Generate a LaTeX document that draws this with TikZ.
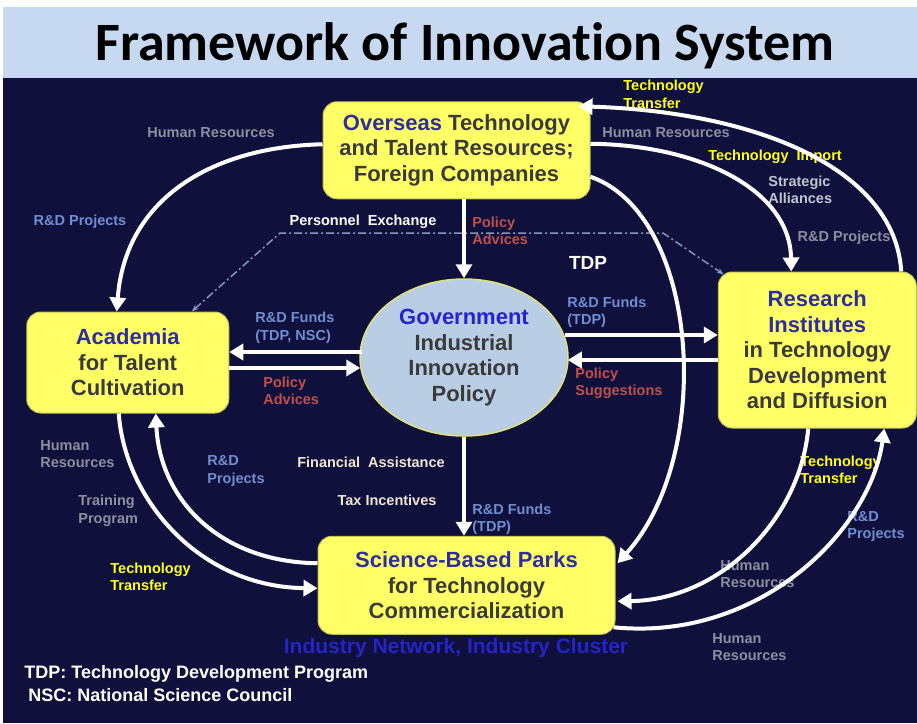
\documentclass[tikz,border=0pt]{standalone}
\usepackage{fontspec}
\setmainfont{Liberation Sans}
\newfontfamily\titlefont{Carlito}[Ligatures=NoCommon]
\usetikzlibrary{positioning,calc,arrows.meta,shapes.geometric}

\definecolor{navybg}{HTML}{10103C}
\definecolor{bandblue}{HTML}{C6D9F1}
\definecolor{boxyellow}{HTML}{FFFF66}
\definecolor{boxedge}{HTML}{C2C25C}
\definecolor{ellfill}{HTML}{B9CDE5}
\definecolor{elledge}{HTML}{E2E278}
\definecolor{nameblue}{HTML}{2E2EA0}
\definecolor{govblue}{HTML}{2323D0}
\definecolor{darktext}{HTML}{3A3A3A}
\definecolor{hrgray}{HTML}{8E8E9E}
\definecolor{lightgray}{HTML}{C4C4CE}
\definecolor{fundblue}{HTML}{6E8FD2}
\definecolor{policyred}{HTML}{C0504D}
\definecolor{techyellow}{HTML}{FFFF1A}
\definecolor{creamtxt}{HTML}{F0E6D2}
\definecolor{dashblue}{HTML}{7F98BA}
\definecolor{clusterblue}{HTML}{2424C8}

\begin{document}
\begin{tikzpicture}[x=1pt, y=-1pt, thick,
  main/.style = {draw=boxedge, line width=1pt, fill=boxyellow, rounded corners=14pt, inner sep=0pt,
                 align=center, text=darktext, font=\bfseries\fontsize{22}{25.5}\selectfont},
  hub/.style = {ellipse, draw=elledge, line width=1.5pt, fill=ellfill, inner sep=0pt,
                align=center, text=darktext, font=\bfseries\fontsize{22}{25.7}\selectfont},
  lbl/.style = {inner sep=0pt, align=left, font=\bfseries\fontsize{14.5}{17.5}\selectfont},
  flow/.style = {draw=white, line width=4pt, -{Triangle[length=14pt,width=16pt]}},
  link/.style = {draw=dashblue, line width=1.5pt, dash pattern=on 8pt off 3pt on 2pt off 3pt,
                 {Stealth[length=7pt]}-{Stealth[length=7pt]}}]
\useasboundingbox (0,0) rectangle (917,723);
\fill[white] (0,0) rectangle (917,723);
\fill[bandblue] (3,7) rectangle (917,78);
\fill[navybg] (3,78) rectangle (917,723);
\node[font=\titlefont\bfseries\fontsize{54}{60}\selectfont] (title) at (465,46) {Framework of Innovation System};

\node[hub, minimum width=208pt, minimum height=157pt] (2) at (464,357.5) {{\color{govblue}Government}\\Industrial\\Innovation\\Policy};
\node[main, minimum width=267pt, minimum height=97pt, above=79pt of 2, xshift=-7.5pt] (1) {{\color{nameblue}Overseas} Technology\\and Talent Resources;\\Foreign Companies};
\node[main, minimum width=202pt, minimum height=101pt, left=130pt of 2, yshift=-5pt] (3) {{\color{nameblue}Academia}\\for Talent\\Cultivation};
\node[main, minimum width=198pt, minimum height=156pt, right=149pt of 2, yshift=7.5pt] (4) {{\color{nameblue}Research}\\{\color{nameblue}Institutes}\\in Technology\\Development\\and Diffusion};
\node[main, minimum width=297pt, minimum height=98pt, below=99pt of 2, xshift=2.5pt] (5) {{\color{nameblue}Science-Based Parks}\\for Technology\\Commercialization};

% flow labels
\node[lbl, text=hrgray] (hr1) at (211,133) {Human Resources};
\node[lbl, text=fundblue] (rd1) at (80,222) {R\&D Projects};
\node[lbl, text=white] (pe) at (363,222) {Personnel\ \ Exchange};
\node[lbl, text=policyred, anchor=west] (pa1) at (472,231) {Policy\\Advices};
\node[lbl, text=white, font=\bfseries\fontsize{19}{22}\selectfont] (tdp) at (588,263) {TDP};
\node[lbl, text=fundblue, anchor=west] (rf1) at (567,312) {R\&D Funds\\(TDP)};
\node[lbl, text=fundblue, anchor=west] (rf2) at (255,327.5) {R\&D Funds\\(TDP, NSC)};
\node[lbl, text=policyred, anchor=west] (pa2) at (263,391) {Policy\\Advices};
\node[lbl, text=policyred, anchor=west] (ps) at (575,383.5) {Policy\\Suggestions};
\node[lbl, text=hrgray, anchor=west] (hr2) at (40,454) {Human\\Resources};
\node[lbl, text=fundblue, anchor=west] (rd2) at (207,471) {R\&D\\Projects};
\node[lbl, text=creamtxt] (fa) at (371,462) {Financial\ \ Assistance};
\node[lbl, text=creamtxt] (tx) at (387,500) {Tax Incentives};
\node[lbl, text=hrgray, anchor=west] (tp) at (78,511) {Training\\Program};
\node[lbl, text=fundblue, anchor=west] (rf3) at (472,519) {R\&D Funds\\(TDP)};
\node[lbl, text=techyellow, anchor=west] (tt1) at (110,577) {Technology\\Transfer};
\node[lbl, text=hrgray, anchor=west] (hr3) at (720,574) {Human\\Resources};
\node[lbl, text=hrgray, anchor=west] (hr4) at (712,647) {Human\\Resources};
\node[lbl, text=fundblue, anchor=west] (rd3) at (847,526.5) {R\&D\\Projects};
\node[lbl, text=techyellow, anchor=west] (tt2) at (800,470) {Technology\\Transfer};
\node[lbl, text=hrgray] (rd4) at (844,238) {R\&D Projects};
\node[lbl, text=lightgray, anchor=west] (sa) at (768,190) {Strategic\\Alliances};
\node[lbl, text=techyellow] (imp) at (775,157) {Technology\ \ Import};
\node[lbl, text=hrgray] (hr5) at (666,133) {Human Resources};
\node[lbl, text=techyellow, anchor=west] (tt3) at (623,94.5) {Technology\\Transfer};
\node[font=\bfseries\fontsize{21}{24}\selectfont, text=clusterblue, inner sep=0pt] (net) at (456,648) {Industry Network, Industry Cluster};
\node[font=\bfseries\fontsize{18}{23}\selectfont, text=white, align=left, anchor=west, inner sep=0pt] (key) at (24,683.5) {TDP: Technology Development Program\\\hspace*{4pt}NSC: National Science Council};

\draw[link] ($(3.north)+(64,0)$) -- (280,233) -- (663,233) -- ($(4.north west)+(6,3)$);

\draw[flow] ($(1.west)+(0,-6)$) .. controls (210,147) and (125,200) .. ($(3.north)+(-11,0)$);
\draw[flow] (2.north |- 1.south) -- (2.north);
\draw[flow] ($(2.west)+(3,-5.5)$) -- ($(3.east)+(0,-10.5)$);
\draw[flow] ($(3.east)+(0,5.5)$) -- ($(2.west)+(1,10.5)$);
\draw[flow] ($(2.east)+(-4,-22.5)$) -- ($(4.west)+(0,-15)$);
\draw[flow] ($(4.west)+(0,10)$) -- ($(2.east)+(-1,2.5)$);
\draw[flow] (2.south) -- (2.south |- 5.north);
\draw[flow] ($(1.east)+(0,26.5)$) .. controls (700,215) and (715,455) .. ($(5.east)+(2,-22)$);
\draw[flow] ($(1.east)+(0,-6.5)$) .. controls (700,145) and (790,190) .. ($(4.north)+(-26,0)$);
\draw[flow] ($(4.north)+(84,0)$) .. controls (895,170) and (760,112) .. ($(1.north east)+(-12,5)$);
\draw[flow] ($(4.south)+(-9,0)$) .. controls (800,520) and (720,600) .. ($(5.east)+(2,16)$);
\draw[flow] ($(5.east)+(-2,42)$) .. controls (760,642) and (870,530) .. ($(4.south)+(67,0)$);
\draw[flow] ($(3.south)+(-9,0)$) .. controls (125,500) and (200,587) .. ($(5.west)+(0,3)$);
\draw[flow] ($(5.west)+(0,-22)$) .. controls (220,562) and (160,500) .. ($(3.south)+(28,0)$);
\end{tikzpicture}
\end{document}
